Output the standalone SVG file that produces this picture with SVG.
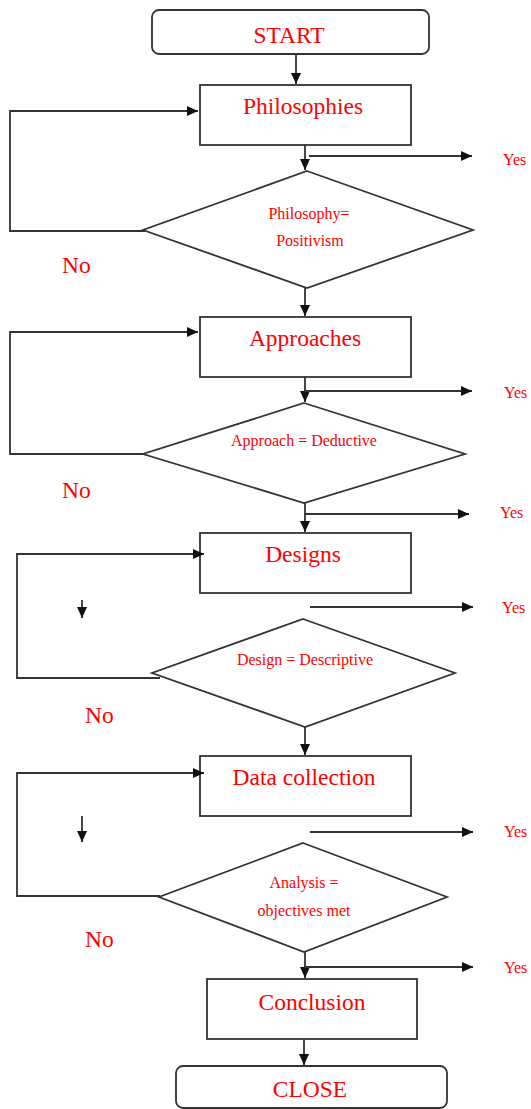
<svg xmlns="http://www.w3.org/2000/svg" width="531" height="1109" viewBox="0 0 531 1109">
  <style>
    .box { fill: #ffffff; stroke: #333333; stroke-width: 1.8; }
    .edge { fill: none; stroke: #333333; stroke-width: 1.8; }
    .big { font-family: "Liberation Serif", "Times New Roman", serif; font-size: 23.5px; fill: #ff0000; text-anchor: middle; }
    .small { font-family: "Liberation Serif", "Times New Roman", serif; font-size: 16px; fill: #ff0000; text-anchor: middle; }
    .yes { font-family: "Liberation Serif", "Times New Roman", serif; font-size: 16px; fill: #ff0000; }
    .no { font-family: "Liberation Serif", "Times New Roman", serif; font-size: 23.5px; fill: #ff0000; }
  </style>
  <defs>
    <marker id="arrow" viewBox="0 0 11 10" refX="11" refY="5" markerWidth="11" markerHeight="10" markerUnits="userSpaceOnUse" orient="auto">
      <path d="M0,0 L11,5 L0,10 Z" fill="#111111"/>
    </marker>
  </defs>
  <rect width="531" height="1109" fill="#ffffff"/>

  <!-- nodes -->
  <g id="start">
    <rect class="box" x="152" y="10" width="277" height="44" rx="7"/>
    <text class="big" x="289" y="43">START</text>
  </g>
  <g id="philosophies">
    <rect class="box" x="200" y="85" width="211" height="60"/>
    <text class="big" x="303" y="114">Philosophies</text>
  </g>
  <g id="philosophy-check">
    <polygon class="box" points="307,171 473,230 307,288 143,230"/>
    <text class="small" x="309" y="219">Philosophy=</text>
    <text class="small" x="310" y="246">Positivism</text>
  </g>
  <g id="approaches">
    <rect class="box" x="200" y="317" width="211" height="60"/>
    <text class="big" x="305" y="346">Approaches</text>
  </g>
  <g id="approach-check">
    <polygon class="box" points="304,403 465,454 304,503 143,454"/>
    <text class="small" x="304" y="446">Approach = Deductive</text>
  </g>
  <g id="designs">
    <rect class="box" x="200" y="533" width="211" height="60"/>
    <text class="big" x="303" y="562">Designs</text>
  </g>
  <g id="design-check">
    <polygon class="box" points="303,619 455,673 305,727 152,673"/>
    <text class="small" x="305" y="665">Design = Descriptive</text>
  </g>
  <g id="data-collection">
    <rect class="box" x="200" y="756" width="211" height="60"/>
    <text class="big" x="304" y="785">Data collection</text>
  </g>
  <g id="analysis-check">
    <polygon class="box" points="303,843 447,897 304,952 159,897"/>
    <text class="small" x="304" y="888">Analysis =</text>
    <text class="small" x="304" y="916">objectives met</text>
  </g>
  <g id="conclusion">
    <rect class="box" x="207" y="979" width="210" height="60"/>
    <text class="big" x="312" y="1010">Conclusion</text>
  </g>
  <g id="close">
    <rect class="box" x="176" y="1066" width="271" height="42" rx="7"/>
    <text class="big" x="310" y="1097">CLOSE</text>
  </g>

  <!-- connectors -->
  <g id="connectors">
    <line class="edge" x1="296" y1="54" x2="296" y2="84" marker-end="url(#arrow)"/>
    <line class="edge" x1="305" y1="145" x2="305" y2="170" marker-end="url(#arrow)"/>
    <line class="edge" x1="309" y1="156" x2="472" y2="156" marker-end="url(#arrow)"/>
    <polyline class="edge" points="145,231 10,231 10,111 198,111" marker-end="url(#arrow)"/>
    <line class="edge" x1="305" y1="288" x2="305" y2="316" marker-end="url(#arrow)"/>

    <line class="edge" x1="305" y1="377" x2="305" y2="402" marker-end="url(#arrow)"/>
    <line class="edge" x1="305" y1="391" x2="472" y2="391" marker-end="url(#arrow)"/>
    <polyline class="edge" points="145,454 10,454 10,332 198,332" marker-end="url(#arrow)"/>
    <line class="edge" x1="305" y1="503" x2="305" y2="532" marker-end="url(#arrow)"/>
    <line class="edge" x1="305" y1="514" x2="469" y2="514" marker-end="url(#arrow)"/>

    <polyline class="edge" points="160,678 17,678 17,554 204,554" marker-end="url(#arrow)"/>
    <line class="edge" x1="82" y1="600" x2="82" y2="618" marker-end="url(#arrow)"/>
    <line class="edge" x1="310" y1="607" x2="473" y2="607" marker-end="url(#arrow)"/>
    <line class="edge" x1="305" y1="727" x2="305" y2="755" marker-end="url(#arrow)"/>

    <polyline class="edge" points="160,896 17,896 17,773 204,773" marker-end="url(#arrow)"/>
    <line class="edge" x1="82" y1="816" x2="82" y2="842" marker-end="url(#arrow)"/>
    <line class="edge" x1="310" y1="832" x2="473" y2="832" marker-end="url(#arrow)"/>
    <line class="edge" x1="305" y1="952" x2="305" y2="978" marker-end="url(#arrow)"/>
    <line class="edge" x1="305" y1="967" x2="473" y2="967" marker-end="url(#arrow)"/>
    <line class="edge" x1="304" y1="1039" x2="304" y2="1065" marker-end="url(#arrow)"/>
  </g>

  <!-- branch labels -->
  <g id="labels">
    <text class="yes" x="503" y="165">Yes</text>
    <text class="no" x="62" y="273">No</text>
    <text class="yes" x="504" y="398">Yes</text>
    <text class="no" x="62" y="498">No</text>
    <text class="yes" x="500" y="518">Yes</text>
    <text class="yes" x="502" y="613">Yes</text>
    <text class="no" x="85" y="723">No</text>
    <text class="yes" x="504" y="837">Yes</text>
    <text class="no" x="85" y="947">No</text>
    <text class="yes" x="504" y="973">Yes</text>
  </g>
</svg>
